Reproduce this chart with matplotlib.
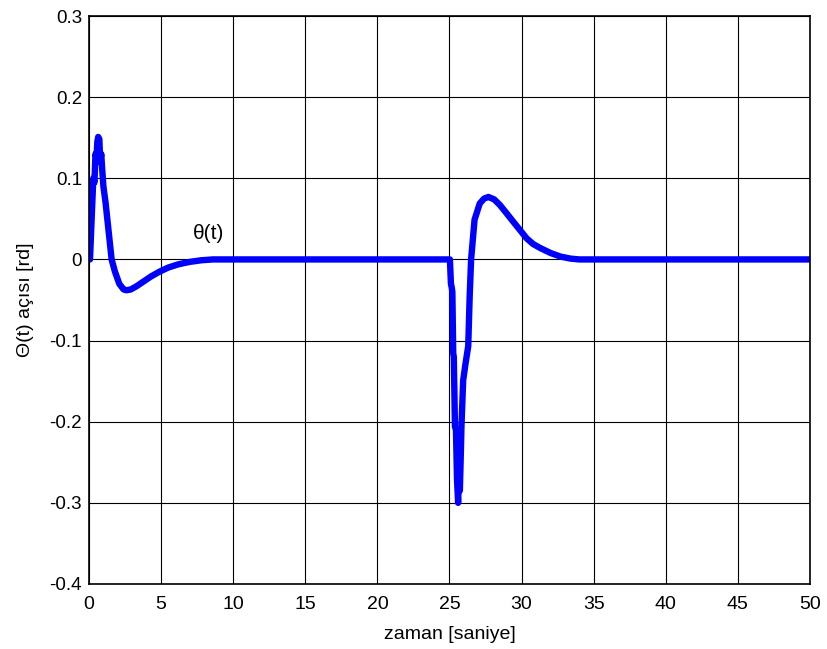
import matplotlib
matplotlib.use("Agg")
import matplotlib.pyplot as plt

plt.rcParams['font.family'] = ['Liberation Sans', 'DejaVu Sans']

# Pendulum angle response (time in seconds, angle in radians)
t = [0.0, 0.07, 0.2, 0.3, 0.38, 0.45, 0.52, 0.58, 0.64, 0.72, 0.78, 0.85, 0.92,
     1.0, 1.15, 1.3, 1.45, 1.57, 1.8, 2.1, 2.4, 2.6, 2.9, 3.3, 3.8, 4.3, 4.9,
     5.5, 6.2, 7.0, 7.8, 8.6, 25.03, 25.1, 25.15, 25.2, 25.26, 25.3, 25.38,
     25.45, 25.52, 25.6, 25.66, 25.72, 25.8, 25.83, 25.95, 26.1, 26.3, 26.4,
     26.5, 26.74, 27.1, 27.4, 27.7, 28.1, 28.5, 29.0, 29.4, 29.9, 30.35, 30.8,
     31.3, 32.0, 32.7, 33.4, 34.0, 50.0]
theta = [0.0, 0.0, 0.057, 0.10, 0.095, 0.13, 0.125, 0.145, 0.151, 0.148, 0.12,
         0.13, 0.11, 0.09, 0.07, 0.045, 0.02, 0.0, -0.015, -0.03, -0.037,
         -0.038, -0.037, -0.033, -0.027, -0.021, -0.015, -0.01, -0.006, -0.003,
         -0.001, 0.0, 0.0, -0.03, -0.034, -0.04, -0.116, -0.12, -0.206, -0.21,
         -0.27, -0.30, -0.26, -0.285, -0.23, -0.206, -0.149, -0.13, -0.107,
         -0.046, 0.0, 0.049, 0.069, 0.075, 0.077, 0.074, 0.067, 0.056, 0.047,
         0.036, 0.026, 0.019, 0.014, 0.008, 0.0035, 0.001, 0.0, 0.0]

x_ticks = [0, 5, 10, 15, 20, 25, 30, 35, 40, 45, 50]
y_ticks = [-0.4, -0.3, -0.2, -0.1, 0.0, 0.1, 0.2, 0.3]
y_tick_labels = ['-0.4', '-0.3', '-0.2', '-0.1', '0', '0.1', '0.2', '0.3']

fig = plt.figure(figsize=(8.27, 6.49), dpi=100)
ax = fig.add_axes([0.1076, 0.1002, 0.9794 - 0.1076, 0.9753 - 0.1002])

ax.plot(t, theta, color='#0000FF', linewidth=4.6, solid_joinstyle='round',
        solid_capstyle='round')

ax.set_xlim(0, 50)
ax.set_ylim(-0.4, 0.3)
ax.set_xticks(x_ticks)
ax.set_yticks(y_ticks)
ax.set_yticklabels(y_tick_labels)
ax.grid(True, color='black', linewidth=0.8, linestyle='-')
ax.set_axisbelow(True)
ax.tick_params(direction='in', length=0)
ax.tick_params(axis='y', labelsize=13.5, pad=5)
ax.tick_params(axis='x', labelsize=14, pad=9)
for sp in ax.spines.values():
    sp.set_linewidth(1.2)

ax.set_xlabel('zaman [saniye]', fontsize=14, labelpad=9)
ax.set_ylabel('Θ(t) açısı [rd]', fontsize=14, labelpad=11)
ax.text(7.2, 0.025, 'θ(t)', fontsize=15)

fig.savefig('out.png', dpi=100)
